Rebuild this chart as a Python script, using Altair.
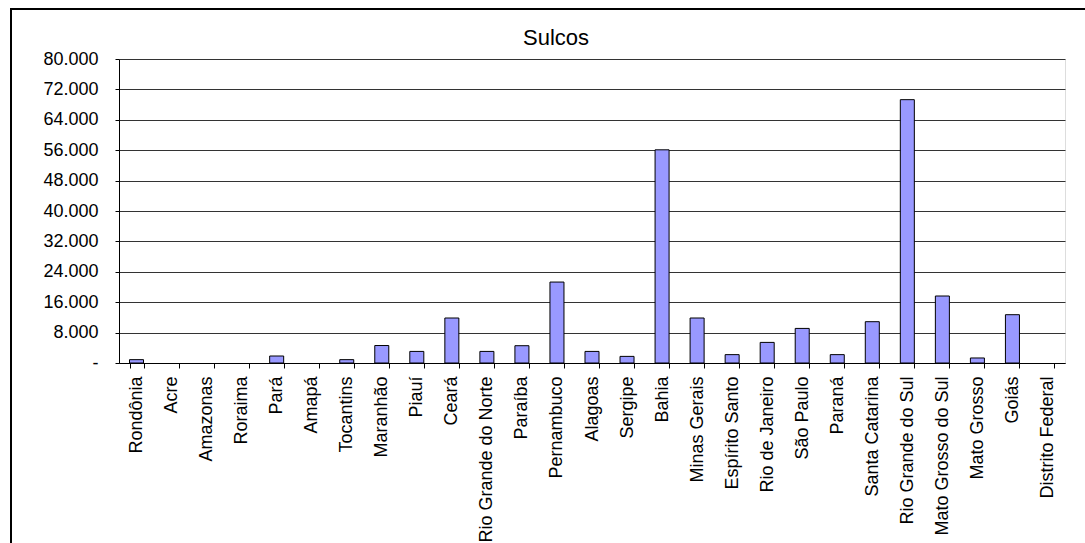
import altair as alt
import pandas as pd

states = ["Rondônia", "Acre", "Amazonas", "Roraima", "Pará", "Amapá", "Tocantins",
          "Maranhão", "Piauí", "Ceará", "Rio Grande do Norte", "Paraíba", "Pernambuco",
          "Alagoas", "Sergipe", "Bahia", "Minas Gerais", "Espírito Santo",
          "Rio de Janeiro", "São Paulo", "Paraná", "Santa Catarina",
          "Rio Grande do Sul", "Mato Grosso do Sul", "Mato Grosso", "Goiás",
          "Distrito Federal"]
values = [880, 0, 0, 0, 1840, 0, 880,
          4600, 3050, 11840, 3050, 4550, 21300,
          3050, 1740, 56100, 11840, 2200,
          5420, 9100, 2200, 10870,
          69300, 17630, 1320, 12710,
          0]
y_ticks = [0, 8000, 16000, 24000, 32000, 40000, 48000, 56000, 64000, 72000, 80000]
title_text = "Sulcos"

FONT = "Liberation Sans"
df = pd.DataFrame({"estado": states, "valor": values})

bars = alt.Chart(df).mark_bar(
    fill="#9999FF", stroke="black"
).encode(
    x=alt.X("estado:N", sort=states,
            scale=alt.Scale(paddingInner=0.6, paddingOuter=0.3),
            axis=alt.Axis(title=None, labelAngle=-90, labelFontSize=18, labelFont=FONT,
                          labelColor="black", labelPadding=8, labelLimit=400,
                          tickSize=5, tickColor="black", tickBand="extent",
                          domainColor="black", grid=False)),
    y=alt.Y("valor:Q",
            scale=alt.Scale(domain=[0, 80000], nice=False),
            axis=alt.Axis(title=None, values=y_ticks, labelFontSize=18, labelFont=FONT,
                          labelColor="black", labelPadding=17, tickSize=4,
                          tickColor="black", domainColor="black",
                          grid=True, gridColor="#333333", gridWidth=1,
                          labelExpr="datum.value == 0 ? '-\u00a0\u00a0\u00a0\u00a0' : replace(format(datum.value, ','), ',', '.')")),
    strokeWidth=alt.condition("datum.valor > 0", alt.value(1), alt.value(0)),
)

title = alt.Chart(pd.DataFrame({"t": [title_text]})).mark_text(
    font=FONT, fontSize=22, color="black", align="center", baseline="alphabetic"
).encode(text="t:N", x=alt.value(437), y=alt.value(-14))

border = alt.Chart(pd.DataFrame({"a": [0]})).mark_rect(
    fill="transparent", stroke="black", strokeWidth=2
).encode(
    x=alt.value(-108), x2=alt.value(982), y=alt.value(-50), y2=alt.value(600)
)

chart = alt.layer(bars, title, border).properties(
    width=946, height=304,
    autosize=alt.AutoSizeParams(type="none"),
    padding={"left": 119, "top": 59, "right": 20, "bottom": 180},
).configure_view(stroke="black", strokeWidth=1).configure(background="white")

chart.save("out.html", embed_options={"renderer": "svg", "actions": False})
